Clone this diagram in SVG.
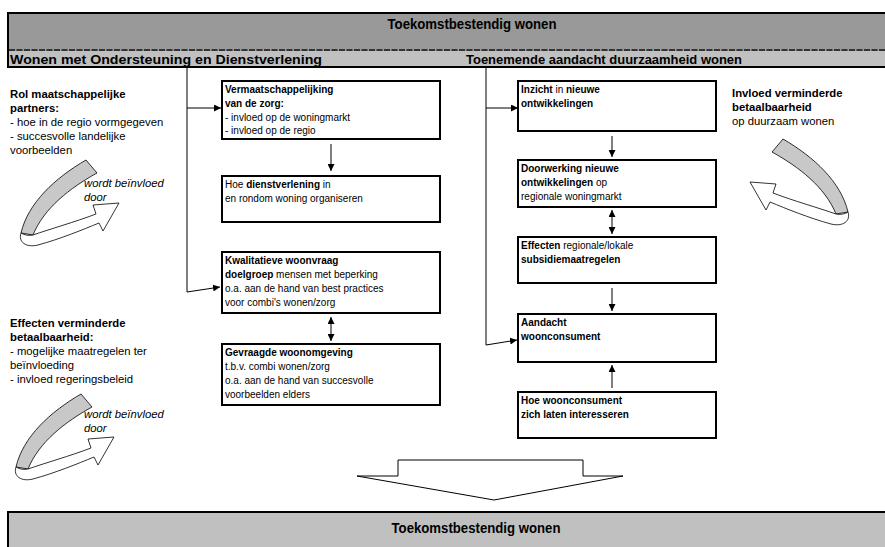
<svg xmlns="http://www.w3.org/2000/svg" width="885" height="547" viewBox="0 0 885 547">
<style>
text{font-family:"Liberation Sans",Arial,sans-serif;fill:#000}
.t{font-size:10px}
.s{font-size:11.3px}
.b{font-weight:bold}
.i{font-style:italic}
.hd{font-size:15px;font-weight:bold}
.sh{font-size:13.5px;font-weight:bold}
.box{fill:#fff;stroke:#000;stroke-width:2}
.ln{fill:none;stroke:#000;stroke-width:1}
.curlg{fill:#c8c8c8;stroke:#000;stroke-width:0.8}
.curlw{fill:#fff;stroke:#000;stroke-width:0.8}
</style>
<defs>
<marker id="ah" viewBox="0 0 10 10" refX="10" refY="5" markerWidth="7" markerHeight="7" markerUnits="userSpaceOnUse" orient="auto-start-reverse">
<path d="M0,0 L10,5 L0,10 Z" fill="#000"/>
</marker>
<g id="curl">
<path class="curlg" d="M86,160 L97,173 C70,188 44,208 33,235 L21,233 C28,203 55,178 86,160 Z"/>
<path class="curlw" d="M21,233 C18,242 26,248 38,245 C60,239 82,230 99,223 L103,231 L119,203 L93,205 L96,214 C75,222 50,229 33,235 C29,236 24,235 21,233 Z"/>
</g>
</defs>

<g id="header-top">
<rect x="8" y="13" width="880" height="54" fill="#999999"/>
<rect x="8" y="51" width="880" height="16" fill="#c0c0c0"/>
<line x1="9" y1="50" x2="887" y2="50" stroke="#333" stroke-width="2" stroke-dasharray="6,1.5"/>
<rect x="8" y="13" width="880" height="54" fill="none" stroke="#000" stroke-width="2"/>
<text class="hd" x="472" y="29" text-anchor="middle" textLength="169" lengthAdjust="spacingAndGlyphs">Toekomstbestendig wonen</text>
<text class="sh" x="10" y="64" textLength="312" lengthAdjust="spacingAndGlyphs">Wonen met Ondersteuning en Dienstverlening</text>
<text class="sh" x="466" y="64" textLength="276" lengthAdjust="spacingAndGlyphs">Toenemende aandacht duurzaamheid wonen</text>
</g>

<g id="connectors">
<line class="ln" x1="187" y1="67" x2="187" y2="292"/>
<line class="ln" x1="187" y1="108" x2="221" y2="108" marker-end="url(#ah)"/>
<line class="ln" x1="187" y1="292" x2="220" y2="287" marker-end="url(#ah)"/>
<line class="ln" x1="331" y1="144" x2="331" y2="171" marker-end="url(#ah)"/>
<line class="ln" x1="331" y1="317" x2="331" y2="341" marker-start="url(#ah)" marker-end="url(#ah)"/>
<line class="ln" x1="486" y1="67" x2="486" y2="345"/>
<line class="ln" x1="486" y1="108" x2="518" y2="108" marker-end="url(#ah)"/>
<line class="ln" x1="486" y1="345" x2="517" y2="340" marker-end="url(#ah)"/>
<line class="ln" x1="612" y1="136" x2="612" y2="157" marker-end="url(#ah)"/>
<line class="ln" x1="612" y1="210" x2="612" y2="234" marker-start="url(#ah)" marker-end="url(#ah)"/>
<line class="ln" x1="612" y1="288" x2="612" y2="311" marker-end="url(#ah)"/>
<line class="ln" x1="612" y1="388" x2="612" y2="365" marker-end="url(#ah)"/>
</g>

<g id="n-vermaatschappelijking">
<rect class="box" x="222" y="81" width="218" height="58"/>
<text class="t b" x="225" y="93">Vermaatschappelijking</text>
<text class="t b" x="225" y="107">van de zorg:</text>
<text class="t" x="225" y="121">- invloed op de woningmarkt</text>
<text class="t" x="225" y="134">- invloed op de regio</text>
</g>
<g id="n-dienstverlening">
<rect class="box" x="222" y="176" width="218" height="46"/>
<text class="t" x="225" y="188">Hoe <tspan class="b">dienstverlening</tspan> in</text>
<text class="t" x="225" y="202">en rondom woning organiseren</text>
</g>
<g id="n-kwalitatieve">
<rect class="box" x="222" y="252" width="218" height="61"/>
<text class="t b" x="225" y="264">Kwalitatieve woonvraag</text>
<text class="t" x="225" y="278"><tspan class="b">doelgroep</tspan> mensen met beperking</text>
<text class="t" x="225" y="292">o.a. aan de hand van best practices</text>
<text class="t" x="225" y="306">voor combi's wonen/zorg</text>
</g>
<g id="n-woonomgeving">
<rect class="box" x="222" y="344" width="218" height="61"/>
<text class="t b" x="225" y="356">Gevraagde woonomgeving</text>
<text class="t" x="225" y="370">t.b.v. combi wonen/zorg</text>
<text class="t" x="225" y="384">o.a. aan de hand van succesvolle</text>
<text class="t" x="225" y="398">voorbeelden elders</text>
</g>

<g id="n-inzicht">
<rect class="box" x="518" y="81" width="198" height="50"/>
<text class="t" x="521" y="93"><tspan class="b">Inzicht</tspan> in <tspan class="b">nieuwe</tspan></text>
<text class="t b" x="521" y="107">ontwikkelingen</text>
</g>
<g id="n-doorwerking">
<rect class="box" x="518" y="160" width="198" height="47"/>
<text class="t b" x="521" y="172">Doorwerking nieuwe</text>
<text class="t" x="521" y="186"><tspan class="b">ontwikkelingen</tspan> op</text>
<text class="t" x="521" y="200">regionale woningmarkt</text>
</g>
<g id="n-effecten">
<rect class="box" x="518" y="237" width="198" height="46"/>
<text class="t" x="521" y="249"><tspan class="b">Effecten</tspan> regionale/lokale</text>
<text class="t b" x="521" y="263">subsidiemaatregelen</text>
</g>
<g id="n-aandacht">
<rect class="box" x="518" y="314" width="198" height="48"/>
<text class="t b" x="521" y="326">Aandacht</text>
<text class="t b" x="521" y="340">woonconsument</text>
</g>
<g id="n-interesseren">
<rect class="box" x="518" y="392" width="198" height="46"/>
<text class="t b" x="521" y="404">Hoe woonconsument</text>
<text class="t b" x="521" y="418">zich laten interesseren</text>
</g>

<g id="n-rol">
<text class="s b" x="10" y="98">Rol maatschappelijke</text>
<text class="s b" x="10" y="112">partners:</text>
<text class="s" x="10" y="126">- hoe in de regio vormgegeven</text>
<text class="s" x="10" y="140">- succesvolle landelijke</text>
<text class="s" x="10" y="154">voorbeelden</text>
<use href="#curl"/>
<text class="s i" x="84" y="187">wordt beïnvloed</text>
<text class="s i" x="84" y="201">door</text>
</g>

<g id="n-effecten-betaalbaarheid">
<text class="s b" x="10" y="327">Effecten verminderde</text>
<text class="s b" x="10" y="341">betaalbaarheid:</text>
<text class="s" x="10" y="355">- mogelijke maatregelen ter</text>
<text class="s" x="10" y="369">beïnvloeding</text>
<text class="s" x="10" y="383">- invloed regeringsbeleid</text>
<use href="#curl" transform="translate(-5,234)"/>
<text class="s i" x="84" y="418">wordt beïnvloed</text>
<text class="s i" x="84" y="432">door</text>
</g>

<g id="n-invloed">
<text class="s b" x="732" y="97">Invloed verminderde</text>
<text class="s b" x="732" y="111">betaalbaarheid</text>
<text class="s" x="732" y="125">op duurzaam wonen</text>
<use href="#curl" transform="translate(869,-21) scale(-1,1)"/>
</g>

<g id="big-arrow">
<path d="M398,476 L398,460 L583,460 L583,476 L623,476 L494,500 L357,476 Z" fill="#fff" stroke="#000" stroke-width="1"/>
</g>

<g id="header-bottom">
<rect x="8" y="512" width="880" height="40" fill="#c0c0c0" stroke="#000" stroke-width="2"/>
<text class="hd" x="476" y="533" text-anchor="middle" textLength="169" lengthAdjust="spacingAndGlyphs">Toekomstbestendig wonen</text>
</g>
</svg>
